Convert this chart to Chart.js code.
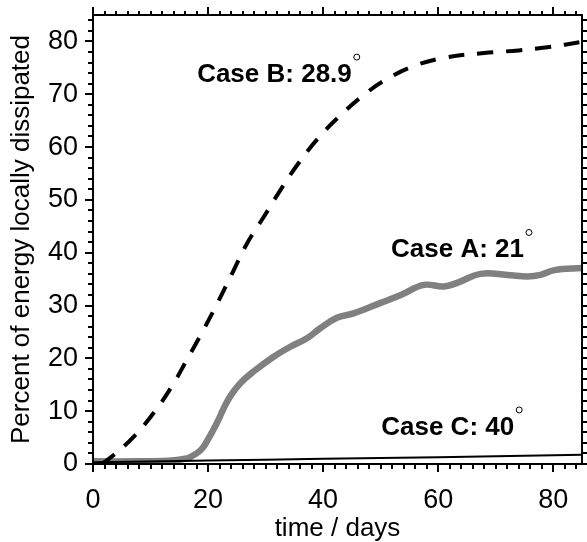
<!DOCTYPE html>
<html>
<head>
<meta charset="utf-8">
<script src="https://cdn.jsdelivr.net/npm/chart.js@4/dist/chart.umd.min.js"></script>
<style>
  html, body { margin: 0; padding: 0; background: #fff; }
  #wrap { width: 587px; height: 542px; }
</style>
</head>
<body>
<div id="wrap"><canvas id="energy"></canvas></div>
<script>
// Case A (21 deg) - thick grey line
const caseADays = [0, 8, 13, 15.5, 16.9, 18.7, 19.8, 21.6, 22.7, 23.9, 25.6, 27.9, 31.4, 34.3, 37.2, 39.5, 42.4, 45.3, 50, 53.5, 57.5, 61, 63.3, 67.4, 72, 75.5, 77.8, 80.2, 85];
const caseAPct  = [0.5, 0.5, 0.6, 0.9, 1.3, 2.6, 4.3, 7.9, 10.5, 12.9, 15.3, 17.5, 20.3, 22.2, 23.8, 25.7, 27.7, 28.5, 30.5, 32, 33.9, 33.6, 34.3, 36, 35.8, 35.5, 35.8, 36.7, 37.1];

// Case B (28.9 deg) - dashed black line
const caseBDays = [1.5, 3.6, 7.1, 10.5, 13.7, 16.3, 19.2, 21.6, 24.2, 26.8, 29.7, 32.6, 35.5, 39, 43, 47, 50.8, 55.7, 61, 68, 74, 79, 85];
const caseBPct  = [0, 1.7, 5.2, 9.6, 14.7, 19.7, 25.4, 30.4, 36.1, 41.8, 46.8, 51.9, 56.6, 61.5, 66, 69.8, 72.7, 75.3, 76.9, 77.8, 78.3, 78.9, 79.9];

// Case C (40 deg) - thin black line
const caseCDays = [0, 20, 40, 60, 85];
const caseCPct  = [0.35, 0.65, 1.0, 1.3, 1.75];

// Axes
const xTicks = [0, 20, 40, 60, 80];
const yTicks = [0, 10, 20, 30, 40, 50, 60, 70, 80];
const X_MAX = 85;
const Y_MAX = 85;
const MINOR = 2;

// Case labels (anchored in data units)
const labelText = ['Case A: 21', 'Case B: 28.9', 'Case C: 40'];
const labelDay  = [51.8, 18.1, 50.1];
const labelPct  = [39.1, 72.3, 5.5];

const FONT = '"Liberation Sans", Arial, Helvetica, sans-serif';

function toPoints(days, pct) {
  return days.map((d, i) => ({ x: d, y: pct[i] }));
}

// Frame, minor ticks and mirrored ticks on top/right
const frameTicks = {
  id: 'frameTicks',
  afterDraw(chart) {
    const { ctx, chartArea: a, scales: { x, y } } = chart;
    ctx.save();
    ctx.strokeStyle = '#000';
    ctx.lineWidth = 2;
    ctx.strokeRect(a.left, a.top, a.right - a.left, a.bottom - a.top);
    ctx.beginPath();
    for (let v = 0; v <= X_MAX; v += MINOR) {
      const px = Math.round(x.getPixelForValue(v));
      const major = xTicks.includes(v);
      if (!major) {
        ctx.moveTo(px, a.bottom);
        ctx.lineTo(px, a.bottom + 5);
      }
      ctx.moveTo(px, a.top);
      ctx.lineTo(px, a.top - (major ? 8 : 4));
    }
    for (let v = 0; v <= Y_MAX; v += MINOR) {
      const py = Math.round(y.getPixelForValue(v));
      const major = yTicks.includes(v);
      if (!major) {
        ctx.moveTo(a.left, py);
        ctx.lineTo(a.left - 5, py);
      }
      ctx.moveTo(a.right, py);
      ctx.lineTo(a.right + (major ? 8 : 5), py);
    }
    ctx.stroke();
    ctx.restore();
  }
};

// Bold case labels with a small degree ring
const caseLabels = {
  id: 'caseLabels',
  afterDatasetsDraw(chart) {
    const { ctx, scales: { x, y } } = chart;
    ctx.save();
    ctx.font = 'bold 26px ' + FONT;
    ctx.fillStyle = '#000';
    ctx.textAlign = 'left';
    ctx.textBaseline = 'alphabetic';
    labelText.forEach((t, i) => {
      const px = x.getPixelForValue(labelDay[i]);
      const py = y.getPixelForValue(labelPct[i]);
      ctx.fillText(t, px, py);
      const w = ctx.measureText(t).width;
      ctx.beginPath();
      ctx.lineWidth = 1;
      ctx.strokeStyle = '#000';
      ctx.arc(px + w + 5, py - 25, 3, 0, Math.PI * 2);
      ctx.stroke();
    });
    ctx.restore();
  }
};

const keepTicks = list => scale => {
  scale.ticks = list.map(v => ({ value: v }));
};

// fixed axis boxes, no extra label padding
const fitX = s => { s.height = 78; s.paddingLeft = 0; s.paddingRight = 0; };
const fitY = s => { s.width = 93; s.paddingTop = 0; s.paddingBottom = 0; };

new Chart(document.getElementById('energy').getContext('2d'), {
  type: 'line',
  data: {
    datasets: [
      {
        label: 'Case A',
        data: toPoints(caseADays, caseAPct),
        borderColor: '#808080',
        borderWidth: 6.5,
        tension: 0.4,
        pointRadius: 0,
        order: 2
      },
      {
        label: 'Case B',
        data: toPoints(caseBDays, caseBPct),
        borderColor: '#000',
        borderWidth: 4,
        borderDash: [16, 13],
        borderCapStyle: 'butt',
        tension: 0.4,
        pointRadius: 0,
        order: 1
      },
      {
        label: 'Case C',
        data: toPoints(caseCDays, caseCPct),
        borderColor: '#000',
        borderWidth: 2,
        tension: 0.4,
        pointRadius: 0,
        order: 0
      }
    ]
  },
  options: {
    responsive: true,
    maintainAspectRatio: false,
    animation: false,
    layout: { padding: { top: 15, right: 5, left: 0, bottom: 0 } },
    plugins: {
      legend: { display: false },
      tooltip: { enabled: false }
    },
    scales: {
      x: {
        type: 'linear',
        min: 0,
        max: X_MAX,
        afterBuildTicks: keepTicks(xTicks),
        afterFit: fitX,
        grid: { drawOnChartArea: false, drawTicks: true, tickLength: 8, color: '#000', lineWidth: 2 },
        border: { display: true, color: '#000', width: 2 },
        ticks: { color: '#000', padding: 12, maxRotation: 0, font: { family: FONT, size: 27 } },
        title: {
          display: true,
          text: 'time / days',
          color: '#000',
          padding: { top: 0, bottom: -2 },
          font: { family: FONT, size: 26 }
        }
      },
      y: {
        type: 'linear',
        min: 0,
        max: Y_MAX,
        afterBuildTicks: keepTicks(yTicks),
        afterFit: fitY,
        grid: { drawOnChartArea: false, drawTicks: true, tickLength: 8, color: '#000', lineWidth: 2 },
        border: { display: true, color: '#000', width: 2 },
        ticks: { color: '#000', padding: 7, font: { family: FONT, size: 27 } },
        title: {
          display: true,
          text: 'Percent of energy locally dissipated',
          color: '#000',
          padding: { top: 6, bottom: 0 },
          font: { family: FONT, size: 26 }
        }
      }
    }
  },
  plugins: [frameTicks, caseLabels]
});
</script>
</body>
</html>
